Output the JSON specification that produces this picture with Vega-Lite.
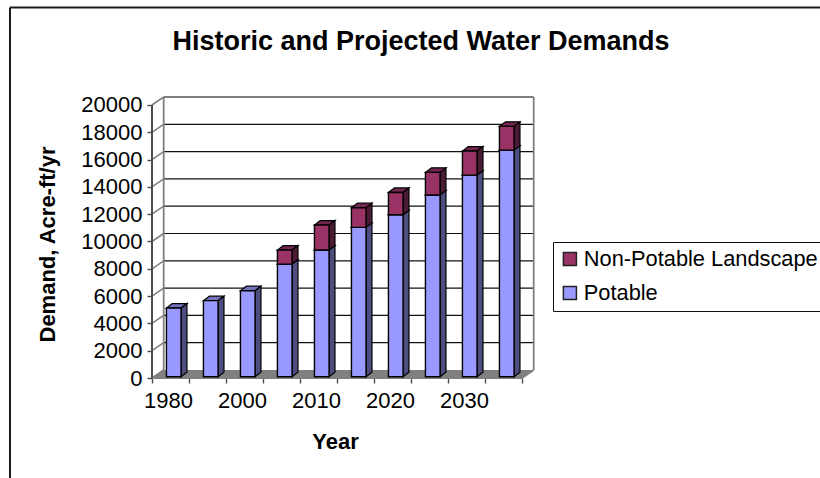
{
"$schema":"https://vega.github.io/schema/vega-lite/v6.json",
"autosize":{"type":"none"},
"padding":{"left":152,"top":97,"right":286,"bottom":100},
"width":382,"height":281,
"background":"white",
"config":{"font":"Liberation Sans","view":{"stroke":null}},
"title":{"text":"Historic and Projected Water Demands","font":"Liberation Sans","fontSize":27,"fontWeight":"bold","color":"black","anchor":"middle","frame":"group","dx":78,"offset":0,"dy":50},
"data":{"values":[
{"year":1980,"type":"Potable","demand":5030},
{"year":1990,"type":"Potable","demand":5570},
{"year":2000,"type":"Potable","demand":6300},
{"year":2005,"type":"Potable","demand":8250},
{"year":2010,"type":"Potable","demand":9280},
{"year":2015,"type":"Potable","demand":10940},
{"year":2020,"type":"Potable","demand":11870},
{"year":2025,"type":"Potable","demand":13310},
{"year":2030,"type":"Potable","demand":14770},
{"year":2035,"type":"Potable","demand":16600},
{"year":2005,"type":"Non-Potable Landscape","demand":1030},
{"year":2010,"type":"Non-Potable Landscape","demand":1830},
{"year":2015,"type":"Non-Potable Landscape","demand":1440},
{"year":2020,"type":"Non-Potable Landscape","demand":1630},
{"year":2025,"type":"Non-Potable Landscape","demand":1660},
{"year":2030,"type":"Non-Potable Landscape","demand":1760},
{"year":2035,"type":"Non-Potable Landscape","demand":1740}
]},
"transform":[
{"stack":"demand","groupby":["year"],"sort":[{"field":"type","order":"descending"}],"as":["v0","v1"]},
{"calculate":"indexof([1980,1990,2000,2005,2010,2015,2020,2025,2030,2035],datum.year)","as":"slot"},
{"calculate":"datum.slot+0.39","as":"xl"},
{"calculate":"datum.slot+0.785","as":"xr"},
{"calculate":"datum.v0+95","as":"ylo"},
{"calculate":"datum.v1+95","as":"yhi"},
{"calculate":"datum.year+datum.type","as":"key"}
],
"layer":[
{"data":{"values":[{"from":-3.838,"to":18.06,"at":27143}]},
 "mark":{"type":"rule","color":"#1a1a1a","strokeWidth":2},
 "encoding":{"x":{"field":"from","type":"quantitative","title":"Year","scale":{"domain":[0,10.324],"nice":false,"zero":false},
   "axis":{"title":"Year","titleFontSize":22,"titleFontWeight":"bold","titleColor":"black","titleX":183,"titleY":53,"values":[0,1,2,3,4,5,6,7,8,9,10],"tickCount":11,"domain":false,"grid":false,"tickColor":"#4d4d4d","tickWidth":1.4,"tickSize":5,"labelOffset":16,"labelFontSize":22,"labelColor":"black","labelOverlap":false,"labelPadding":7,"labelFlush":false,"labelBound":false,
   "labelExpr":"datum.value==0?'1980':datum.value==2?'2000':datum.value==4?'2010':datum.value==6?'2020':datum.value==8?'2030':''"}},
  "x2":{"field":"to"},
  "y":{"field":"at","type":"quantitative","title":"Demand, Acre-ft/yr","scale":{"domain":[0,20586],"nice":false,"zero":false},
   "axis":{"title":"Demand, Acre-ft/yr","titleFontSize":22,"titleFontWeight":"bold","titleColor":"black","titleX":-93,"titleY":147,"values":[0,2000,4000,6000,8000,10000,12000,14000,16000,18000,20000],"tickCount":11,"format":"d","domain":false,"grid":false,"tickColor":"#4d4d4d","tickWidth":1.4,"tickSize":5,"labelFontSize":22,"labelColor":"black","labelPadding":5,"labelOverlap":false,"labelBound":false,"labelFlush":false}}}},
{"data":{"values":[{"at":-3.838,"from":-7326,"to":27143}]},
 "mark":{"type":"rule","color":"#1a1a1a","strokeWidth":2},
 "encoding":{"x":{"field":"at","type":"quantitative"},"y":{"field":"from","type":"quantitative"},"y2":{"field":"to"}}},
{"data":{"values":[{"depth":0},{"depth":1}]},
 "transform":[{"calculate":"datum.depth*586","as":"yy"},{"calculate":"datum.depth*0.316","as":"x1"},{"calculate":"10+datum.depth*0.316","as":"x2"}],
 "mark":{"type":"area","orient":"horizontal","color":"#808080"},
 "encoding":{"y":{"field":"yy","type":"quantitative"},"x":{"field":"x1","type":"quantitative"},"x2":{"field":"x2"}}},
{"data":{"values":[{"v":2000},{"v":4000},{"v":6000},{"v":8000},{"v":10000},{"v":12000},{"v":14000},{"v":16000},{"v":18000}]},
 "transform":[{"calculate":"datum.v+586","as":"b"},{"calculate":"0.316","as":"x1"},{"calculate":"10.316","as":"x2"}],
 "mark":{"type":"rule","color":"#111111","strokeWidth":1.2},
 "encoding":{"y":{"field":"b","type":"quantitative"},"x":{"field":"x1","type":"quantitative"},"x2":{"field":"x2"}}},
{"data":{"values":[{"v":0},{"v":2000},{"v":4000},{"v":6000},{"v":8000},{"v":10000},{"v":12000},{"v":14000},{"v":16000},{"v":18000},{"v":20000}]},
 "transform":[{"calculate":"datum.v+586","as":"b"},{"calculate":"0","as":"x1"},{"calculate":"0.316","as":"x2"}],
 "mark":{"type":"rule","color":"#808080","strokeWidth":1.6},
 "encoding":{"y":{"field":"v","type":"quantitative"},"y2":{"field":"b"},"x":{"field":"x1","type":"quantitative"},"x2":{"field":"x2"}}},
{"data":{"values":[{"x":0.316,"x2":10.316,"v":20586,"v2":20586},{"x":0.316,"x2":0.316,"v":586,"v2":20586},{"x":10.316,"x2":10.316,"v":586,"v2":20586},{"x":10,"x2":10.316,"v":0,"v2":586}]},
 "mark":{"type":"rule","color":"#808080","strokeWidth":1.8},
 "encoding":{"y":{"field":"v","type":"quantitative"},"y2":{"field":"v2"},"x":{"field":"x","type":"quantitative"},"x2":{"field":"x2"}}},
{"data":{"values":[{"x":0,"x2":10,"v":0,"v2":0}]},
 "mark":{"type":"rule","color":"#808080","strokeWidth":2},
 "encoding":{"y":{"field":"v","type":"quantitative"},"y2":{"field":"v2"},"x":{"field":"x","type":"quantitative"},"x2":{"field":"x2"}}},
{"data":{"values":[{"x":0,"v":0,"v2":20000}]},
 "mark":{"type":"rule","color":"#4d4d4d","strokeWidth":2},
 "encoding":{"y":{"field":"v","type":"quantitative"},"y2":{"field":"v2"},"x":{"field":"x","type":"quantitative"}}},
{"transform":[{"calculate":"[0,1]","as":"k"},{"flatten":["k"]},{"calculate":"datum.xl+datum.k*0.16","as":"tx1"},{"calculate":"datum.xr+datum.k*0.16","as":"tx2"},{"calculate":"datum.yhi+datum.k*330","as":"ty"}],
 "mark":{"type":"area","orient":"horizontal","stroke":"#000000","strokeWidth":1.2},
 "encoding":{"y":{"field":"ty","type":"quantitative"},"x":{"field":"tx1","type":"quantitative"},"x2":{"field":"tx2"},"detail":{"field":"key"},
  "fill":{"condition":{"test":"datum.type=='Potable'","value":"#7373C0"},"value":"#732650"}}},
{"transform":[{"calculate":"[0,1]","as":"k"},{"flatten":["k"]},{"calculate":"datum.xr+datum.k*0.16","as":"sx"},{"calculate":"datum.ylo+datum.k*330","as":"s0"},{"calculate":"datum.yhi+datum.k*330","as":"s1"}],
 "mark":{"type":"area","stroke":"#000000","strokeWidth":1.2},
 "encoding":{"x":{"field":"sx","type":"quantitative"},"y":{"field":"s1","type":"quantitative"},"y2":{"field":"s0"},"detail":{"field":"key"},
  "fill":{"condition":{"test":"datum.type=='Potable'","value":"#4D4D80"},"value":"#4D1A33"}}},
{"mark":{"type":"rect","stroke":"#000000","strokeWidth":1.4},
 "encoding":{"x":{"field":"xl","type":"quantitative"},
  "x2":{"field":"xr"},
  "y":{"field":"ylo","type":"quantitative"},
  "y2":{"field":"yhi"},
  "fill":{"field":"type","type":"nominal","scale":{"domain":["Non-Potable Landscape","Potable"],"range":["#993366","#9999FF"]},
   "legend":{"title":null,"orient":"none","legendX":401,"legendY":145,"fillColor":"white","strokeColor":"#111111","padding":6,"symbolType":"square","symbolSize":170,"symbolStrokeColor":"#222222","symbolStrokeWidth":1.5,"labelFontSize":21.8,"labelColor":"black","labelLimit":300,"rowPadding":11,"labelOffset":3}}}}
]
}
